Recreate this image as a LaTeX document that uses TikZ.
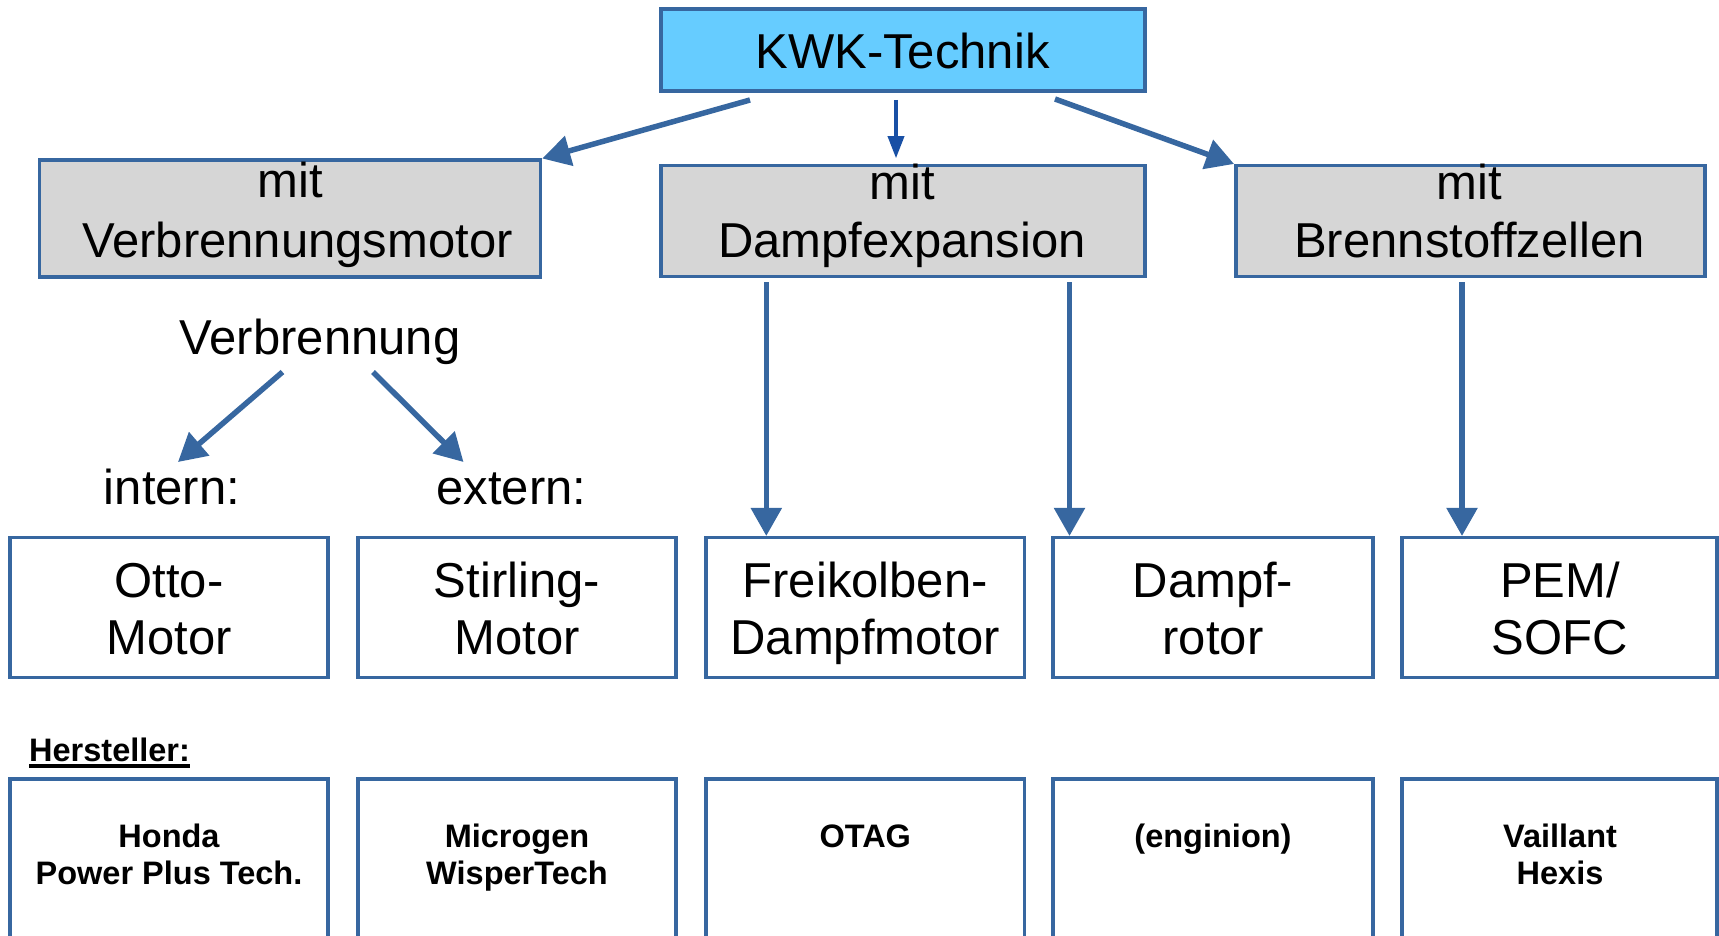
\documentclass[tikz,border=0pt]{standalone}
\usepackage{fontspec}
\setmainfont{Liberation Sans}
\usetikzlibrary{arrows.meta}
\definecolor{edge}{RGB}{55,103,160}
\definecolor{darkarr}{RGB}{25,80,165}
\definecolor{topfill}{RGB}{102,204,255}
\definecolor{grayfill}{RGB}{214,214,214}

\begin{document}
\begin{tikzpicture}[x=1pt,y=-1pt,
  box/.style={draw=edge,line width=3.5pt,inner sep=0pt,rectangle},
  big/.style={inner sep=0pt,anchor=base,font=\fontsize{49}{58}\selectfont},
  small/.style={inner sep=0pt,anchor=base,font=\fontsize{32.5}{38}\selectfont\bfseries},
  arr/.style={draw=edge,line width=5.5pt,-{Triangle[width=30pt,length=28pt]}},
  thinarr/.style={draw=darkarr,line width=3.5pt,-{Triangle[width=16pt,length=22pt]}}]
\useasboundingbox (0,0) rectangle (1719,936);

% top level
\node[box,fill=topfill,minimum width=484pt,minimum height=82pt] (kwk) at (903,50) {};
\node[big] (tkwk) at (902.5,68.5) {KWK-Technik};

% second level
\node[box,fill=grayfill,minimum width=501pt,minimum height=116.5pt] (b1) at (290,218.5) {};
\node[box,fill=grayfill,minimum width=484pt,minimum height=111pt] (b2) at (903,221.2) {};
\node[box,fill=grayfill,minimum width=469pt,minimum height=111pt] (b3) at (1470.3,221.2) {};
\node[big] (t1a) at (290.5,198) {mit};
\node[big] (t1b) at (297.5,258) {Verbrennungsmotor};
\node[big] (t2a) at (902,200) {mit};
\node[big] (t2b) at (902,258) {Dampfexpansion};
\node[big] (t3a) at (1469,200) {mit};
\node[big] (t3b) at (1469.5,258) {Brennstoffzellen};

% combustion branch labels
\node[big] (verb) at (320,354) {Verbrennung};
\node[big] (intern) at (172,504) {intern:};
\node[big] (extern) at (511.5,504) {extern:};

% third level and manufacturer boxes
\foreach \n/\cx/\w in {r1/169/318, r2/517/318, r3/865.25/318.5, r4/1213/320, r5/1559.5/315}{
  \node[box,minimum width=\w pt,minimum height=139.6pt] (\n) at (\cx,607.5) {};
  \node[box,minimum width=\w pt,minimum height=182pt] (\n m) at (\cx,870) {};
}
\node[big] (o1) at (169,597) {Otto-};
\node[big] (o2) at (169,654.5) {Motor};
\node[big] (s1) at (517,597) {Stirling-};
\node[big] (s2) at (517,654.5) {Motor};
\node[big] (f1) at (865.25,597) {Freikolben-};
\node[big] (f2) at (865.25,654.5) {Dampfmotor};
\node[big] (d1) at (1213,597) {Dampf-};
\node[big] (d2) at (1213,654.5) {rotor};
\node[big] (p1) at (1560,597) {PEM/};
\node[big] (p2) at (1560,654.5) {SOFC};

% manufacturers
\node[small,anchor=base west] (hst) at (29,761) {Hersteller:};
\draw[line width=3.5pt] ([yshift=-5pt]hst.base west) -- ([yshift=-5pt]hst.base east);
\node[small] (m1a) at (169,847) {Honda};
\node[small] (m1b) at (169,884.5) {Power Plus Tech.};
\node[small] (m2a) at (517,847) {Microgen};
\node[small] (m2b) at (517,884.5) {WisperTech};
\node[small] (m3a) at (865.25,847) {OTAG};
\node[small] (m4a) at (1213,847) {(enginion)};
\node[small] (m5a) at (1560,847) {Vaillant};
\node[small] (m5b) at (1560,884.5) {Hexis};

% connectors from the top box
\coordinate (k1) at (750,100);
\coordinate (k2) at (896,100);
\coordinate (k3) at (1055,99);
\draw[arr] (k1) -- (b1.north east);
\draw[thinarr,shorten >=5.7pt] (k2) -- (k2 |- b2.north);
\draw[arr] (k3) -- (b3.north west);

% combustion branch
\coordinate (vl) at (282.5,372);
\coordinate (vlt) at (178,462);
\coordinate (vr) at (373,372);
\coordinate (vrt) at (463.5,462);
\draw[arr] (vl) -- (vlt);
\draw[arr] (vr) -- (vrt);

% vertical connectors
\coordinate (e1) at (766.3,282);
\coordinate (e2) at (1069.5,282);
\coordinate (e3) at (1462,282);
\draw[arr] (e1) -- (e1 |- r3.north);
\draw[arr] (e2) -- (e2 |- r4.north);
\draw[arr] (e3) -- (e3 |- r5.north);
\end{tikzpicture}
\end{document}
